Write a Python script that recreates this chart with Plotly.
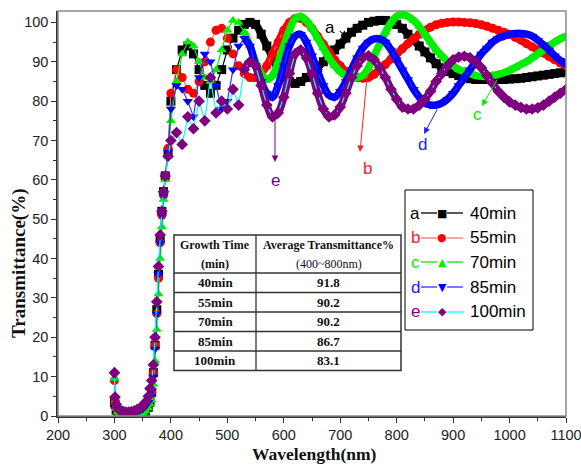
import plotly.graph_objects as go

# ---------------------------------------------------------------- data
# wavelength grid (nm): dense sampling across the absorption edge, then 10 nm steps
wl_uv = [300, 301, 303, 306, 310, 315, 320, 325, 330, 335, 340, 345, 350, 355,
         360, 363, 366, 369, 372, 375, 378, 381, 384, 387, 390, 395]
wl_vis = list(range(400, 1101, 10))
wavelength = wl_uv + wl_vis

# transmittance (%) for each growth time
t40_uv = [3.5, 3, 1.5, 0.8, 0.5, 0.4, 0.3, 0.3, 0.3, 0.3, 0.4, 0.5, 0.7, 1.2,
          2.2, 3.5, 6, 11, 18, 27, 36, 45, 52, 57, 61, 67]
t40_vis = [80, 88, 93, 94, 92, 88, 84, 82, 84, 88, 93, 96, 98, 99.5, 100, 99.5,
           97, 94, 91, 88, 86, 85, 84.5, 85, 86, 87, 88.5, 90, 91.5, 93, 94.5,
           96, 97.5, 98.5, 99.3, 100, 100.3, 100.5, 100.5, 100.2, 99.5, 98.5,
           97, 95.5, 94, 92.5, 91, 89.5, 88.5, 87.5, 87, 86.5, 86, 85.7, 85.5,
           85.5, 85.5, 85.5, 85.5, 85.5, 85.6, 85.7, 85.8, 86, 86.2, 86.4, 86.6,
           86.8, 87, 87.2, 87.5]

t55_uv = [9, 4, 2.2, 1.2, 0.8, 0.6, 0.5, 0.5, 0.5, 0.6, 0.7, 0.9, 1.2, 1.8,
          3, 4.5, 6, 11, 18, 26, 35, 44, 51, 56, 61, 68]
t55_vis = [82, 88, 86, 83, 82, 85, 90, 95, 98, 98.5, 96, 92, 89, 87, 86, 86,
           87, 89, 92, 95, 98, 100, 101, 101, 100, 98.5, 96.5, 94.5, 92.5, 90.5,
           89, 87.5, 86.5, 86, 85.8, 86, 86.8, 88, 89.3, 90.7, 92, 93.3, 94.6,
           95.8, 97, 98, 98.8, 99.4, 99.8, 100, 100.1, 100.1, 100, 99.9, 99.7,
           99.4, 99, 98.5, 98, 97.5, 97, 96.2, 95.5, 94.6, 93.8, 93, 92.2, 91.3,
           90.5, 89.7, 89]

t70_uv = [9.5, 3.5, 2, 1, 0.6, 0.4, 0.3, 0.3, 0.3, 0.4, 0.5, 0.6, 0.8, 1.2,
          2, 3, 4, 8, 14, 22, 31, 40, 48, 55, 60, 66]
t70_vis = [75, 85, 92, 95, 94, 90, 86, 85, 88, 93, 98, 100.5, 100, 97.5, 94, 90,
           87, 85.5, 86.5, 90, 94, 98, 101, 101.5, 100.5, 98.5, 96, 93.5, 91, 89,
           87.5, 86.5, 86, 86, 86.5, 88.5, 91.5, 94.5, 97.5, 100, 101.5, 102,
           101.5, 100.5, 99, 97, 95, 93, 91.5, 90, 89, 88, 87.5, 87, 86.5, 86.3,
           86.3, 86.5, 86.8, 87.2, 87.8, 88.5, 89.3, 90, 91, 92, 93, 94, 95,
           95.8, 96.5]

t85_uv = [10.5, 4.5, 2.5, 1.5, 1, 0.8, 0.7, 0.7, 0.8, 0.9, 1.1, 1.4, 1.8, 2.5,
          3.5, 5, 6.5, 10, 17, 26, 36, 44, 51, 56, 61, 67]
t85_vis = [78, 84, 83, 80, 76, 86, 92, 90, 84, 78, 80, 88, 94, 96, 94, 89, 85,
           82, 81, 84, 89, 94, 96.5, 97, 95, 91.5, 87.5, 84, 81.5, 81, 82.5, 85,
           88, 91, 93.5, 95, 95.8, 95.8, 95, 93, 90.5, 88, 85.5, 83, 81, 79.5,
           79, 79, 79.5, 80.5, 82, 84, 86, 88, 90, 92, 93.5, 95, 96, 96.5, 97,
           97.2, 97.2, 97, 96.5, 95.5, 94.3, 93, 91.5, 90.3, 89.3]

t100_uv = [11, 4.8, 3, 2, 1.5, 1.2, 1, 1, 1.1, 1.3, 1.6, 2, 2.6, 3.5,
           5, 7, 9, 13, 20, 29, 38, 46, 52, 57, 61, 66]
t100_vis = [70, 72, 69, 76, 73, 80, 75, 86, 77, 80, 78, 83, 79, 88, 90, 89, 84,
            79, 76, 77, 81, 87, 92, 93, 91, 87, 82, 78, 76, 76.5, 78.5, 82, 86,
            89, 91, 91.5, 90.5, 88.5, 86, 83, 80.5, 78.5, 78, 78, 79, 80.5, 82.5,
            85, 87, 89, 90.5, 91.2, 91.4, 91, 90, 88.5, 86.5, 84.5, 82.5, 81,
            79.8, 79, 78.4, 78, 78, 78.3, 79, 80, 81, 82, 83]

series_letters = ["a", "b", "c", "d", "e"]
series_names = ["40min", "55min", "70min", "85min", "100min"]
series_values = [t40_uv + t40_vis, t55_uv + t55_vis, t70_uv + t70_vis,
                 t85_uv + t85_vis, t100_uv + t100_vis]

# summary table
table_header = [["Growth Time", "(min)"], ["Average Transmittance%", "(400~800nm)"]]
table_times = ["40min", "55min", "70min", "85min", "100min"]
table_avg = [91.8, 90.2, 90.2, 86.7, 83.1]

# ---------------------------------------------------------------- styling
marker_colors = ["#000000", "#ff0000", "#00ee00", "#0000ff", "#7f007f"]
line_colors = ["#000000", "#ff7070", "#00ee00", "#3030ff", "#00ffff"]
letter_colors = ["#000000", "#ff2020", "#00ee00", "#2020ff", "#7f007f"]
symbols = ["square", "circle", "triangle-up", "triangle-down", "diamond"]
glyphs = ["\u25A0", "\u25CF", "\u25B2", "\u25BC", "\u25C6"]
BAND_FROM = 530  # the fringes are smooth (dense, overlapping markers) from here on

W, H = 581, 465
ML, MR, MT, MB = 58, 15, 11, 49
PW, PH = W - ML - MR, H - MT - MB


def px(x):
    return (x - ML) / PW


def py(y):
    return (H - MB - y) / PH


SANS = "Liberation Sans, Arial, sans-serif"
SERIF = "Liberation Serif, Times New Roman, serif"

fig = go.Figure()
for vals, name, mc, lc, sym in zip(series_values, series_names, marker_colors,
                                   line_colors, symbols):
    band_x = [w for w in wavelength if w >= BAND_FROM]
    band_y = [v for w, v in zip(wavelength, vals) if w >= BAND_FROM]
    fig.add_trace(go.Scatter(
        x=band_x, y=band_y, mode="lines", line=dict(color=mc, width=7.5, shape="spline"),
        showlegend=False, hoverinfo="skip"))
    fig.add_trace(go.Scatter(
        x=wavelength, y=vals, name=name, mode="lines+markers",
        line=dict(color=lc, width=1.2),
        marker=dict(symbol=sym, size=9, color=mc, line=dict(width=0)),
        showlegend=False, hoverinfo="skip"))

shapes = []
annotations = []


def label(text, x, y, font, xanchor="center", **kw):
    annotations.append(dict(text=text, x=px(x), y=py(y), xref="paper", yref="paper",
                            showarrow=False, xanchor=xanchor, yanchor="middle",
                            font=font, **kw))


# frame on top/right
shapes.append(dict(type="rect", xref="paper", yref="paper", x0=0, y0=0, x1=1, y1=1,
                   line=dict(color="#8a8a8a", width=1.5), layer="above"))

# axis titles
label("<b>Wavelength(nm)</b>", 314, 454, dict(family=SERIF, size=17.5, color="#111"))
label("<b>Transmittance(%)</b>", 19, 263, dict(family=SERIF, size=19, color="#111"),
      textangle=-90)

# curve labels with arrows: (letter, label pos, arrow tail, arrow tip)
callouts = [
    ("a", (330, 27), (338, 30), (348, 37)),
    ("b", (367, 168), (367, 77), (360, 152)),
    ("c", (477, 115), (498, 78), (482, 106)),
    ("d", (422, 145), (438, 108), (424, 134)),
    ("e", (275, 180), (275, 118), (275, 162)),
]
for (letter, lab, tail, tip), col in zip(callouts, letter_colors):
    label(letter, lab[0], lab[1], dict(family=SANS, size=17, color=col))
    annotations.append(dict(text="", x=px(tip[0]), y=py(tip[1]), xref="paper",
                            yref="paper", showarrow=True, axref="pixel", ayref="pixel",
                            ax=tail[0] - tip[0], ay=tail[1] - tip[1],
                            arrowhead=2, arrowsize=1.3, arrowwidth=1, arrowcolor=col))

# legend box
shapes.append(dict(type="rect", xref="paper", yref="paper", x0=px(405), y0=py(190),
                   x1=px(533), y1=py(330), line=dict(color="#000", width=1),
                   fillcolor="white", layer="above"))
leg_y = [213, 238, 262, 287, 312]
for i, yy in enumerate(leg_y):
    label(series_letters[i], 415, yy, dict(family=SANS, size=17, color=letter_colors[i]))
    for x0, x1 in ((421, 437), (447, 463)):
        shapes.append(dict(type="line", xref="paper", yref="paper", x0=px(x0),
                           x1=px(x1), y0=py(yy), y1=py(yy),
                           line=dict(color=line_colors[i], width=1.3), layer="above"))
    label(glyphs[i], 442, yy, dict(family="DejaVu Sans", size=11, color=marker_colors[i]))
    label(series_names[i], 468, yy, dict(family=SANS, size=17, color="#000"),
          xanchor="left")

# summary table
tx0, tx1, tcol = 174, 401, 256
row_lines = [235, 273, 292.5, 312, 331.5, 351, 370.5]
shapes.append(dict(type="rect", xref="paper", yref="paper", x0=px(tx0), y0=py(row_lines[0]),
                   x1=px(tx1), y1=py(row_lines[-1]), line=dict(color="#333", width=1.5),
                   fillcolor="white", layer="above"))
shapes.append(dict(type="line", xref="paper", yref="paper", x0=px(tcol), x1=px(tcol),
                   y0=py(row_lines[0]), y1=py(row_lines[-1]),
                   line=dict(color="#333", width=1.3), layer="above"))
for yl in row_lines[1:-1]:
    shapes.append(dict(type="line", xref="paper", yref="paper", x0=px(tx0), x1=px(tx1),
                       y0=py(yl), y1=py(yl), line=dict(color="#333", width=1.3),
                       layer="above"))
c1, c2 = (tx0 + tcol) / 2, (tcol + tx1) / 2
tfont = dict(family=SERIF, size=12, color="#111")
for cx, lines in zip((c1, c2), table_header):
    label("<b>" + lines[0] + "</b>", cx, 245, tfont)
    label("<b>" + lines[1] + "</b>" if cx == c1 else lines[1], cx, 264, tfont)
for i, (tt, av) in enumerate(zip(table_times, table_avg)):
    yc = (row_lines[i + 1] + row_lines[i + 2]) / 2
    label("<b>" + tt + "</b>", c1, yc, dict(family=SERIF, size=13, color="#111"))
    label("<b>%.1f</b>" % av, c2, yc, dict(family=SERIF, size=13, color="#111"))

axis_common = dict(ticks="outside", ticklen=5, tickwidth=1.3, tickcolor="#333",
                   showline=True, linecolor="#333", linewidth=1.5, showgrid=False,
                   zeroline=False, tickfont=dict(family=SANS, size=14.5, color="#222"),
                   automargin=False, ticklabeloverflow="allow", tickmode="linear")

fig.update_layout(
    width=W, height=H, margin=dict(l=ML, r=MR, t=MT, b=MB, autoexpand=False),
    paper_bgcolor="white", plot_bgcolor="white", template="none",
    showlegend=False, shapes=shapes, annotations=annotations,
    xaxis=dict(range=[200, 1100], tick0=200, dtick=100,
               minor=dict(ticks="outside", dtick=50, ticklen=3, tickwidth=1.3,
                          tickcolor="#333", showgrid=False),
               **axis_common),
    yaxis=dict(range=[0, 102.9], tick0=0, dtick=10,
               minor=dict(ticks="outside", dtick=5, ticklen=3, tickwidth=1.3,
                          tickcolor="#333", showgrid=False),
               **axis_common),
)

fig.write_html("out.html")
